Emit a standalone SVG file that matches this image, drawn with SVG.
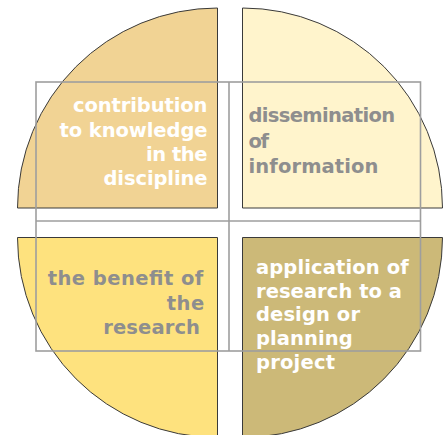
<svg xmlns="http://www.w3.org/2000/svg" width="446" height="435" viewBox="0 0 446 435">
<style>
.q{stroke:#3a3a3a;stroke-width:1}
.t{font-family:"DejaVu Sans",Verdana,sans-serif;font-weight:bold;font-size:19.5px}
.w{fill:#ffffff}
.g{fill:#8e8e8e}
.e{text-anchor:end}
.grid{fill:none;stroke:#9e9e9e;stroke-width:1.6}
</style>
<rect width="446" height="435" fill="#ffffff"/>
<g id="contribution">
<path class="q" fill="#F1D394" d="M217.5,208 L17.5,208 A200,200 0 0 1 217.5,8 Z"/>
<text class="t w e" x="207.5" y="112" textLength="134.5" lengthAdjust="spacing">contribution</text>
<text class="t w e" x="207.5" y="136.5" textLength="148" lengthAdjust="spacing">to knowledge</text>
<text class="t w e" x="207.5" y="160.5" textLength="61.5" lengthAdjust="spacing">in the</text>
<text class="t w e" x="207.5" y="184.5" textLength="104" lengthAdjust="spacing">discipline</text>
</g>
<g id="dissemination">
<path class="q" fill="#FFF4CC" d="M242.5,208 L242.5,8 A200,200 0 0 1 442.5,208 Z"/>
<text class="t g" x="248.5" y="122" textLength="146.7" lengthAdjust="spacing">dissemination</text>
<text class="t g" x="248.5" y="147.5" textLength="20.6" lengthAdjust="spacing">of</text>
<text class="t g" x="248.5" y="173" textLength="130" lengthAdjust="spacing">information</text>
</g>
<g id="benefit">
<path class="q" fill="#FEE27E" d="M217.5,237.5 L17.5,237.5 A200,200 0 0 0 217.5,437.5 Z"/>
<text class="t g e" x="203.3" y="285" textLength="155.6" lengthAdjust="spacing">the benefit of</text>
<text class="t g e" x="204.3" y="309.5" textLength="37.6" lengthAdjust="spacing">the</text>
<text class="t g e" x="200" y="334" textLength="96.7" lengthAdjust="spacing">research</text>
</g>
<g id="application">
<path class="q" fill="#CCB978" d="M242.5,237.5 L442.5,237.5 A200,200 0 0 1 242.5,437.5 Z"/>
<text class="t w" x="256" y="273.5" textLength="152.7" lengthAdjust="spacing">application of</text>
<text class="t w" x="256" y="297.5" textLength="146" lengthAdjust="spacing">research to a</text>
<text class="t w" x="256" y="321" textLength="104" lengthAdjust="spacing">design or</text>
<text class="t w" x="256" y="345" textLength="96.7" lengthAdjust="spacing">planning</text>
<text class="t w" x="256" y="368.5" textLength="79" lengthAdjust="spacing">project</text>
</g>
<g id="connectors">
<rect class="grid" x="36" y="82" width="384.5" height="269"/>
<line class="grid" x1="36" y1="221" x2="420.5" y2="221"/>
<line class="grid" x1="229" y1="82" x2="229" y2="351"/>
</g>
</svg>
